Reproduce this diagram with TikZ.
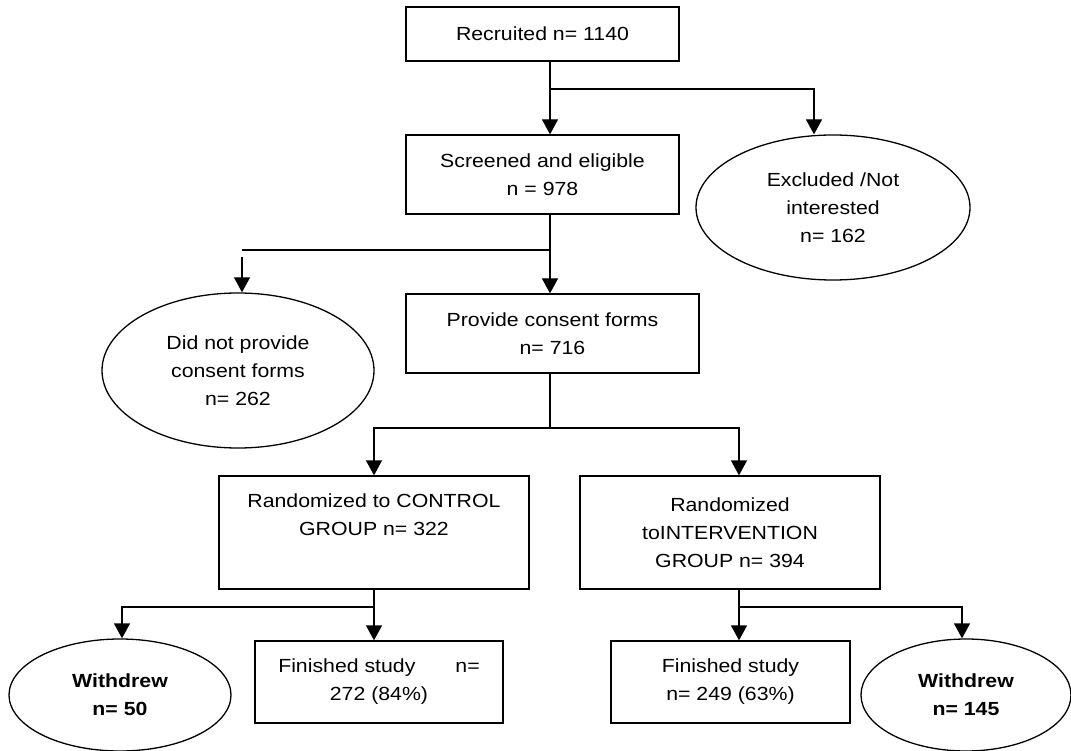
\documentclass[tikz,border=0pt]{standalone}
\usepackage{fontspec}
\setmainfont{Liberation Sans}[FakeStretch=1.12]
\usetikzlibrary{shapes.geometric,arrows.meta}

\begin{document}
\begin{tikzpicture}[x=1pt,y=-1pt,line width=1.3pt,
  font=\fontsize{19}{28}\selectfont,
  box/.style={draw,rectangle,align=center,inner sep=0pt},
  oval/.style={draw,ellipse,align=center,inner sep=0pt},
  arr/.style={-{Triangle[width=16pt,length=15pt]}}]
%\draw[help lines] (0,0) grid (1071,751);
\useasboundingbox (0,0) rectangle (1071,751);
\node (rec) [box,minimum width=273,minimum height=54] at (542.5,34) {Recruited n= 1140};
\node (scr) [box,minimum width=273,minimum height=79] at (542.5,174.5) {Screened and eligible\\n = 978};
\node (excl) [oval,minimum width=274,minimum height=145] at (833,207.5) {Excluded /Not\\interested\\n= 162};
\node (nocons) [oval,minimum width=272,minimum height=155] at (238,370.5) {Did not provide\\consent forms\\n= 262};
\node (prov) [box,minimum width=293,minimum height=79] at (552.5,333.5) {Provide consent forms\\n= 716};
\node (ctrl) [box,minimum width=310,minimum height=113] at (374,532.5) {Randomized to CONTROL\\GROUP n= 322\\ \strut};
\node (intv) [box,minimum width=300,minimum height=113] at (730,532.5) {Randomized\\toINTERVENTION\\GROUP n= 394};
\node (fin1) [box,minimum width=248,minimum height=82] at (379,682) {Finished study\hspace{40pt}n=\\272 (84\%)};
\node (fin2) [box,minimum width=239,minimum height=82] at (730.5,682) {Finished study\\n= 249 (63\%)};
\node (wd1) [oval,minimum width=222,minimum height=112,font=\fontsize{19}{28}\selectfont\bfseries] at (120,695) {Withdrew\\n= 50};
\node (wd2) [oval,minimum width=210,minimum height=112,font=\fontsize{19}{28}\selectfont\bfseries] at (966,695) {Withdrew\\n= 145};
% junctions
\coordinate (j1) at (550,89);
\coordinate (j2) at (550,250);
\coordinate (j3) at (242,257);
\coordinate (j4) at (550,428);
\coordinate (j5) at (374,607);
\coordinate (j6) at (739,607);
\draw (rec.south -| j1) -- (j1);
\draw[arr] (j1) -- (scr.north -| j1);
\draw[arr] (j1) -| ([xshift=-19pt]excl.north);
\draw (scr.south -| j2) -- (j2) -- (j2 -| j3);
\draw[arr] (j3) -- (j3 |- nocons.north);
\draw[arr] (j2) -- (prov.north -| j2);
\draw (prov.south -| j4) -- (j4);
\draw[arr] (j4) -| (ctrl.north);
\draw[arr] (j4) -| ([xshift=9pt]intv.north);
\draw (ctrl.south) -- (j5);
\draw[arr] (j5) -| ([xshift=2pt]wd1.north);
\draw[arr] (j5) -- (j5 |- fin1.north);
\draw (intv.south -| j6) -- (j6);
\draw[arr] (j6) -- (j6 |- fin2.north);
\draw[arr] (j6) -| ([xshift=-4pt]wd2.north);
\end{tikzpicture}
\end{document}
